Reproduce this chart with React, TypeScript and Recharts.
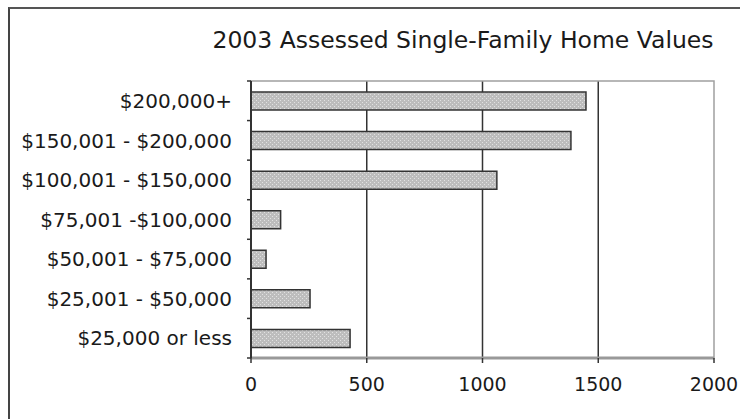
import React from 'react';
import { BarChart, Bar, XAxis, YAxis, CartesianGrid, ReferenceArea } from 'recharts';

// Assessed value ranges, listed top to bottom
const categories = [
  '$200,000+',
  '$150,001 - $200,000',
  '$100,001 - $150,000',
  '$75,001 -$100,000',
  '$50,001 - $75,000',
  '$25,001 - $50,000',
  '$25,000 or less',
];

// Number of single-family homes in each range
const homeCounts = [1447, 1382, 1062, 128, 65, 255, 428];

const valueTicks = [0, 500, 1000, 1500, 2000];
const gridValues = [500, 1000, 1500];

const data = categories.map((range, i) => ({ range, homes: homeCounts[i] }));

const FONT = '"DejaVu Sans", Verdana, sans-serif';
const LABEL_GAP = 19;
const EDGE_MARK = 4;

// Category label plus a short mark at the band boundary above it
// (and below it, for the last category).
function CategoryTick(props: any) {
  const { x, y, payload, index, visibleTicksCount } = props;
  const half = payload && typeof payload.offset === 'number' ? payload.offset : 0;
  const axisX = x + LABEL_GAP;
  const isLast = index === visibleTicksCount - 1;
  return (
    <g>
      <line x1={axisX - EDGE_MARK} x2={axisX} y1={y - half} y2={y - half} stroke="#333" strokeWidth={1.5} />
      {isLast && (
        <line x1={axisX - EDGE_MARK} x2={axisX} y1={y + half} y2={y + half} stroke="#333" strokeWidth={1.5} />
      )}
      <text x={x} y={y} dy="0.36em" textAnchor="end" fill="#1a1a1a" fontSize={20} fontFamily={FONT}>
        {payload.value}
      </text>
    </g>
  );
}

export default function App() {
  return (
    <div
      style={{
        position: 'fixed',
        left: 0,
        top: 0,
        width: 740,
        height: 419,
        background: '#fff',
        overflow: 'hidden',
        fontFamily: FONT,
      }}
    >
      <div
        style={{
          position: 'absolute',
          left: 8,
          top: 7,
          right: -10,
          bottom: -10,
          borderLeft: '2px solid #444',
          borderTop: '2px solid #555',
        }}
      />
      <div
        style={{
          position: 'absolute',
          left: 163,
          width: 600,
          top: 26,
          fontSize: 23.5,
          lineHeight: '28px',
          color: '#1a1a1a',
          textAlign: 'center',
          whiteSpace: 'nowrap',
        }}
      >
        2003 Assessed Single-Family Home Values
      </div>
      <div style={{ position: 'absolute', left: 0, top: 0 }}>
        <BarChart
          width={740}
          height={419}
          layout="vertical"
          data={data}
          margin={{ top: 81, right: 26, bottom: 0, left: 0 }}
        >
          <defs>
            <pattern id="stipple" width="4" height="4" patternUnits="userSpaceOnUse">
              <rect width="4" height="4" fill="#bdbdbd" />
              <rect x="0" y="0" width="1" height="1" fill="#e2e2e2" />
              <rect x="2" y="2" width="1" height="1" fill="#e2e2e2" />
            </pattern>
          </defs>
          <CartesianGrid
            horizontal={false}
            vertical
            verticalValues={gridValues}
            stroke="#333"
            strokeWidth={1.5}
          />
          {/* light frame around the plot area */}
          <ReferenceArea
            x1={0}
            x2={2000}
            y1={categories[0]}
            y2={categories[categories.length - 1]}
            fill="none"
            fillOpacity={0}
            stroke="#a0a0a0"
            strokeWidth={1.5}
          />
          <XAxis
            type="number"
            domain={[0, 2000]}
            ticks={valueTicks}
            interval={0}
            height={61}
            axisLine={{ stroke: '#999', strokeWidth: 3 }}
            tickLine={{ stroke: '#333', strokeWidth: 1.5 }}
            tickSize={5}
            tickMargin={15}
            tick={{ fill: '#1a1a1a', fontSize: 19, fontFamily: FONT }}
          />
          <YAxis
            type="category"
            dataKey="range"
            width={251}
            axisLine={{ stroke: '#333', strokeWidth: 2 }}
            tickLine={false}
            tickSize={0}
            tickMargin={LABEL_GAP}
            interval={0}
            tick={<CategoryTick />}
          />
          <Bar
            dataKey="homes"
            barSize={18}
            fill="url(#stipple)"
            stroke="#333"
            strokeWidth={1.5}
            isAnimationActive={false}
          />
        </BarChart>
      </div>
    </div>
  );
}
